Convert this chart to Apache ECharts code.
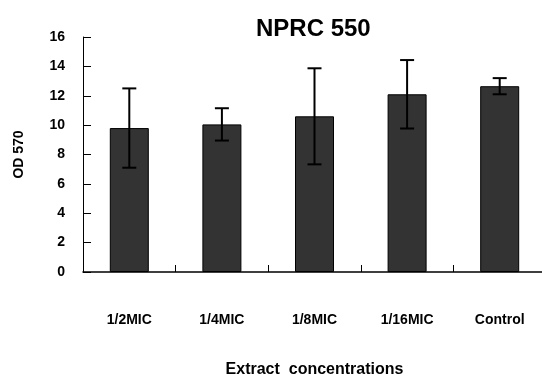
<!DOCTYPE html>
<html>
<head>
<meta charset="utf-8">
<script src="https://cdn.jsdelivr.net/npm/echarts@6/dist/echarts.min.js"></script>
<style>
  html, body { margin: 0; padding: 0; background: #fff; }
  #main { width: 542px; height: 378px; }
</style>
</head>
<body>
<div id="main"></div>
<script>
// data
var categories = ['1/2MIC', '1/4MIC', '1/8MIC', '1/16MIC', 'Control'];
var meanValues = [9.8, 10.05, 10.6, 12.1, 12.65];
var errValues = [2.7, 1.1, 3.27, 2.33, 0.55];
var yTicks = [0, 2, 4, 6, 8, 10, 12, 14, 16];

var FONT = '"Liberation Sans", Arial, sans-serif';

var errData = categories.map(function (c, i) {
  return [i, meanValues[i] - errValues[i], meanValues[i] + errValues[i]];
});

var myChart = echarts.init(document.getElementById('main'));

var option = {
  backgroundColor: '#fff',
  animation: false,
  title: {
    text: 'NPRC 550',
    left: 256,
    top: 17,
    padding: 0,
    textStyle: { fontFamily: FONT, fontSize: 24, fontWeight: 'bold', color: '#000' }
  },
  grid: {
    left: 83,
    right: -4,
    top: 37,
    bottom: 106,
    containLabel: false,
    outerBoundsMode: 'none'
  },
  xAxis: {
    type: 'category',
    data: categories,
    name: 'Extract  concentrations',
    nameLocation: 'middle',
    nameGap: 90,
    nameTextStyle: { fontFamily: FONT, fontSize: 16, fontWeight: 'bold', color: '#000' },
    axisLine: { show: true, onZero: false, lineStyle: { color: '#000', width: 1.5 } },
    axisTick: { show: true, inside: true, length: 7, lineStyle: { color: '#000', width: 1 } },
    axisLabel: { margin: 41, fontFamily: FONT, fontSize: 14, fontWeight: 'bold', color: '#000' },
    splitLine: { show: false }
  },
  yAxis: {
    type: 'value',
    min: yTicks[0],
    max: yTicks[yTicks.length - 1],
    interval: 2,
    name: 'OD 570',
    nameLocation: 'middle',
    nameRotate: 90,
    nameGap: 57,
    nameTextStyle: { fontFamily: FONT, fontSize: 14, fontWeight: 'bold', color: '#000' },
    axisLine: { show: true, lineStyle: { color: '#000', width: 1 } },
    axisTick: { show: true, inside: true, length: 8, lineStyle: { color: '#000' } },
    axisLabel: { margin: 18, fontFamily: FONT, fontSize: 14, fontWeight: 'bold', color: '#000' },
    splitLine: { show: false }
  },
  series: [
    {
      type: 'bar',
      data: meanValues,
      barWidth: 39,
      itemStyle: { color: '#333333', borderColor: '#000', borderWidth: 1 }
    },
    {
      type: 'custom',
      data: errData,
      z: 10,
      renderItem: function (params, api) {
        var x = api.value(0);
        var lo = api.coord([x, api.value(1)]);
        var hi = api.coord([x, api.value(2)]);
        var half = 7;
        var style = { stroke: '#000', lineWidth: 2 };
        return {
          type: 'group',
          children: [
            { type: 'line', shape: { x1: lo[0], y1: lo[1], x2: hi[0], y2: hi[1] }, style: style },
            { type: 'line', shape: { x1: hi[0] - half, y1: hi[1], x2: hi[0] + half, y2: hi[1] }, style: style },
            { type: 'line', shape: { x1: lo[0] - half, y1: lo[1], x2: lo[0] + half, y2: lo[1] }, style: style }
          ]
        };
      }
    }
  ]
};

myChart.setOption(option);
</script>
</body>
</html>
